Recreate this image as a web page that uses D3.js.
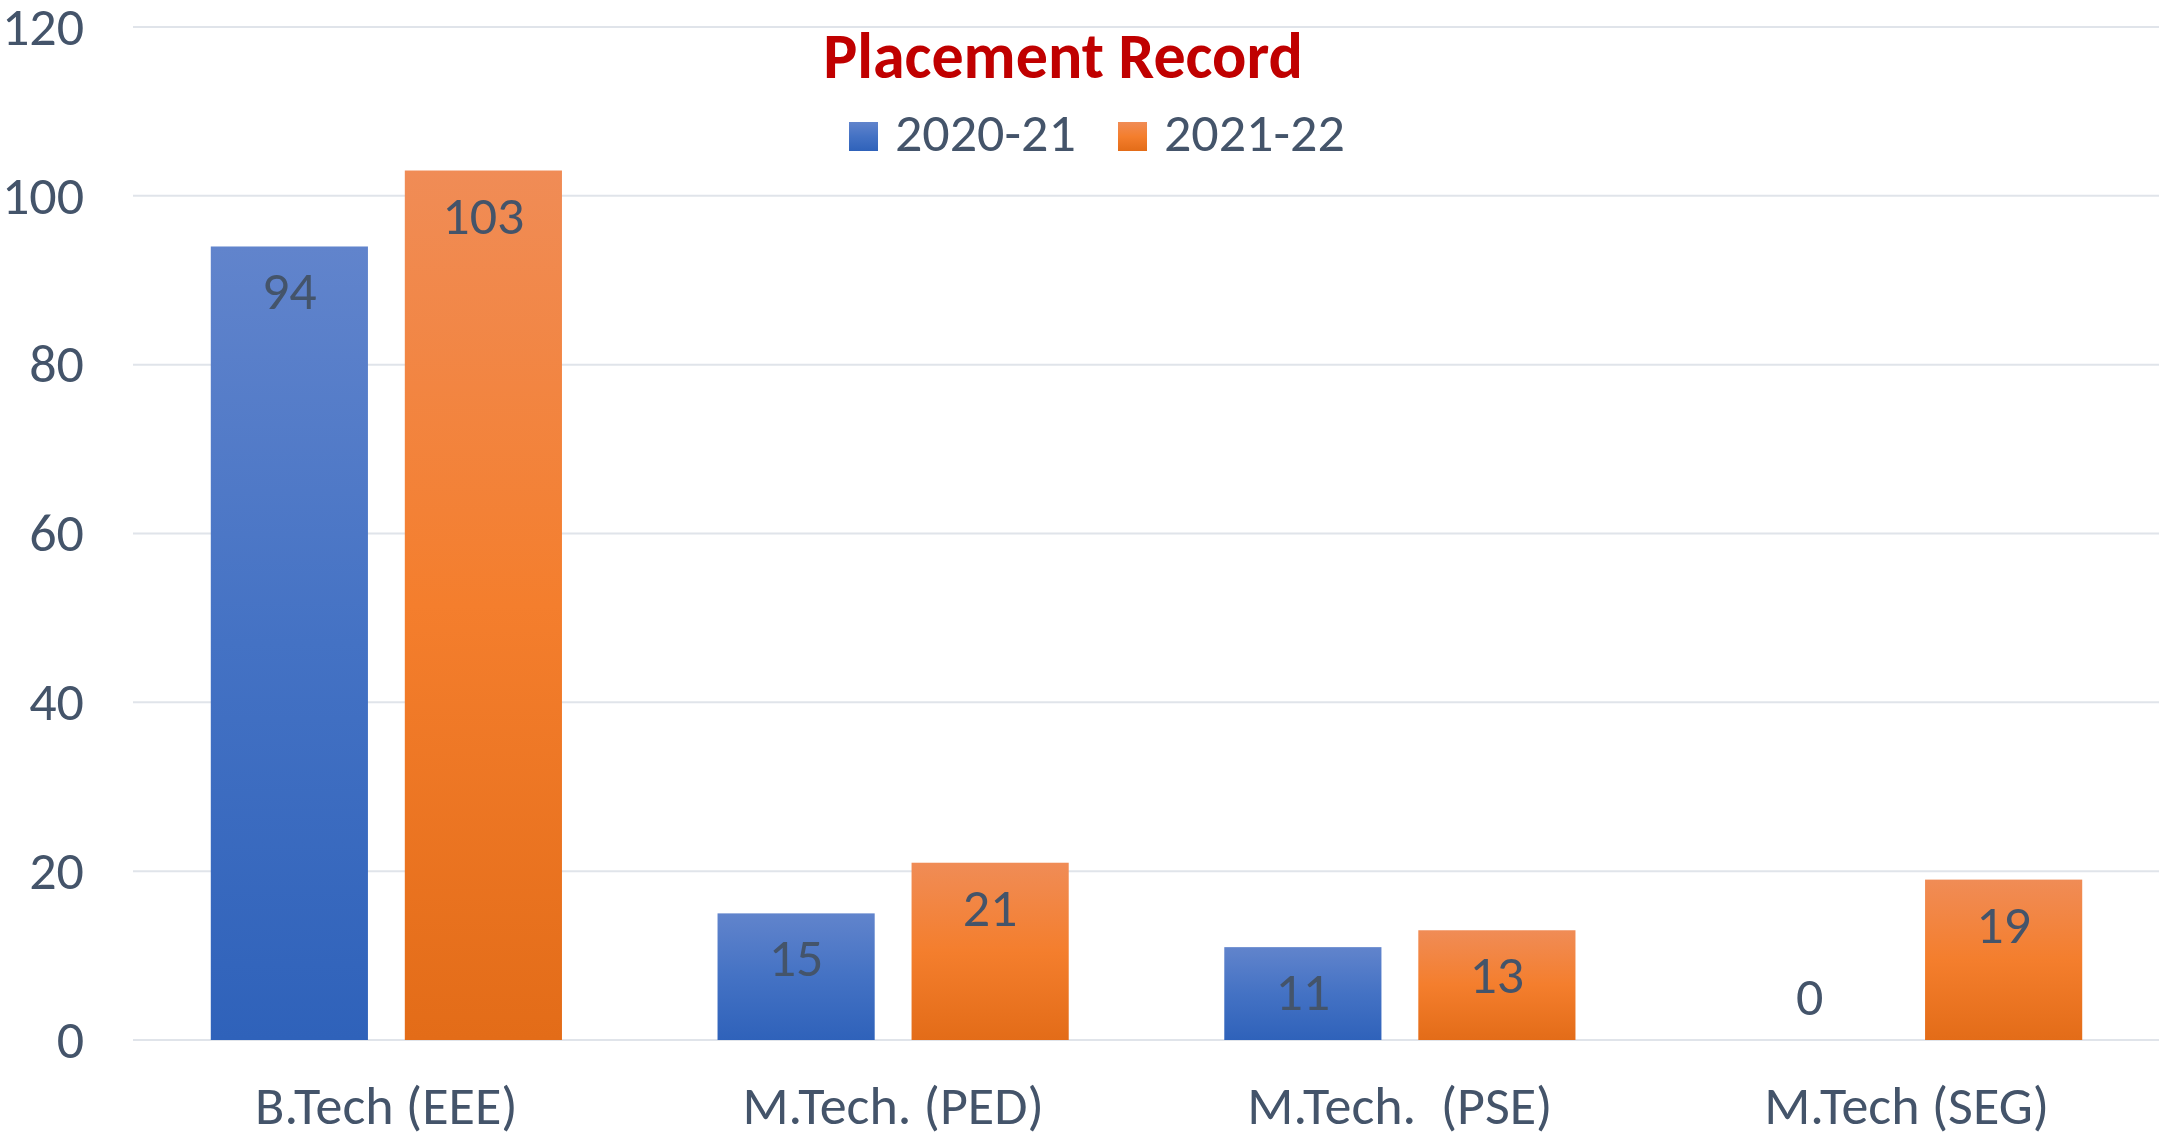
<!DOCTYPE html>
<html>
<head>
<meta charset="utf-8">
<script src="https://cdn.jsdelivr.net/npm/d3@7"></script>
<style>
  html, body { margin: 0; padding: 0; background: #fff; }
  svg { display: block; font-family: Carlito, Calibri, Lato, sans-serif; }
</style>
</head>
<body>
<div id="chart"></div>
<script>
// placement record chart

var categories = ["B.Tech (EEE)", "M.Tech. (PED)", "M.Tech.  (PSE)", "M.Tech (SEG)"];
var seriesNames = ["2020-21", "2021-22"];
var values2020 = [94, 15, 11, 0];
var values2021 = [103, 21, 13, 19];
var yTicks = [0, 20, 40, 60, 80, 100, 120];

var W = 2159, H = 1135;
var plot = { left: 133, right: 2160, top: 27, bottom: 1040 };
var textColor = "#44546A";
var fontSize = "54px";

var svg = d3.select("#chart").append("svg")
    .attr("width", W)
    .attr("height", H);

// gradients, one per series (per bar, like excel)
var defs = svg.append("defs");
var grads = [
    { id: "gBlue", stops: ["#6184CC", "#4472C4", "#2F62BA"] },
    { id: "gOrange", stops: ["#F08C56", "#F47E2D", "#E36C18"] }
];
grads.forEach(function (g) {
    var lg = defs.append("linearGradient")
        .attr("id", g.id)
        .attr("x1", 0).attr("y1", 0)
        .attr("x2", 0).attr("y2", 1);
    lg.append("stop").attr("offset", "0%").attr("stop-color", g.stops[0]);
    lg.append("stop").attr("offset", "50%").attr("stop-color", g.stops[1]);
    lg.append("stop").attr("offset", "100%").attr("stop-color", g.stops[2]);
});

var x0 = d3.scaleBand()
    .domain(categories)
    .range([plot.left, plot.right])
    .paddingInner(0.307)
    .paddingOuter(0.1535);

var x1 = d3.scaleBand()
    .domain(seriesNames)
    .range([0, x0.bandwidth()])
    .paddingInner(0.19);

var y = d3.scaleLinear()
    .domain([0, 120])
    .range([plot.bottom, plot.top]);

// gridlines
svg.append("g")
    .selectAll("line")
    .data(yTicks)
    .enter()
    .append("line")
    .attr("x1", plot.left)
    .attr("x2", W)
    .attr("y1", function (d) { return y(d); })
    .attr("y2", function (d) { return y(d); })
    .attr("stroke", "#E0E4EA")
    .attr("stroke-width", 2);

// y tick labels
svg.append("g")
    .selectAll("text")
    .data(yTicks)
    .enter()
    .append("text")
    .attr("x", 84)
    .attr("y", function (d) { return y(d); })
    .attr("dy", "0.33em")
    .attr("text-anchor", "end")
    .attr("fill", textColor)
    .style("font-size", fontSize)
    .text(function (d) { return d; });

// bars
var rows = categories.map(function (c, i) {
    return { cat: c, vals: [values2020[i], values2021[i]] };
});
var fills = ["url(#gBlue)", "url(#gOrange)"];

var groups = svg.append("g")
    .selectAll("g")
    .data(rows)
    .enter()
    .append("g")
    .attr("transform", function (d) { return "translate(" + x0(d.cat) + ",0)"; });

var cells = groups.selectAll("g")
    .data(function (d) {
        return seriesNames.map(function (s, k) { return { s: s, k: k, v: d.vals[k] }; });
    })
    .enter()
    .append("g");

cells.filter(function (d) { return d.v > 0; })
    .append("rect")
    .attr("x", function (d) { return x1(d.s); })
    .attr("width", x1.bandwidth())
    .attr("y", function (d) { return y(d.v); })
    .attr("height", function (d) { return y(0) - y(d.v); })
    .attr("fill", function (d) { return fills[d.k]; });

// data labels, inside end
cells.append("text")
    .attr("x", function (d) { return x1(d.s) + x1.bandwidth() / 2; })
    .attr("y", function (d) { return Math.min(y(d.v) + 63, y(0) - 25); })
    .attr("text-anchor", "middle")
    .attr("fill", textColor)
    .style("font-size", fontSize)
    .text(function (d) { return d.v; });

// category labels
svg.append("g")
    .selectAll("text")
    .data(categories)
    .enter()
    .append("text")
    .attr("x", function (d) { return x0(d) + x0.bandwidth() / 2; })
    .attr("y", 1124)
    .attr("text-anchor", "middle")
    .attr("fill", textColor)
    .style("font-size", fontSize)
    .style("white-space", "pre")
    .attr("xml:space", "preserve")
    .text(function (d) { return d; });

// title
svg.append("text")
    .attr("x", 1063)
    .attr("y", 78)
    .attr("text-anchor", "middle")
    .attr("fill", "#C00000")
    .style("font-size", "64px")
    .style("font-weight", "bold")
    .text("Placement Record");

// legend
var legendX = [849, 1118];
var legend = svg.append("g")
    .selectAll("g")
    .data(seriesNames)
    .enter()
    .append("g")
    .attr("transform", function (d, i) { return "translate(" + legendX[i] + ",122)"; });

legend.append("rect")
    .attr("width", 29)
    .attr("height", 29)
    .attr("fill", function (d, i) { return fills[i]; });

legend.append("text")
    .attr("x", 46)
    .attr("y", 29)
    .attr("fill", textColor)
    .style("font-size", fontSize)
    .text(function (d) { return d; });
</script>
</body>
</html>
